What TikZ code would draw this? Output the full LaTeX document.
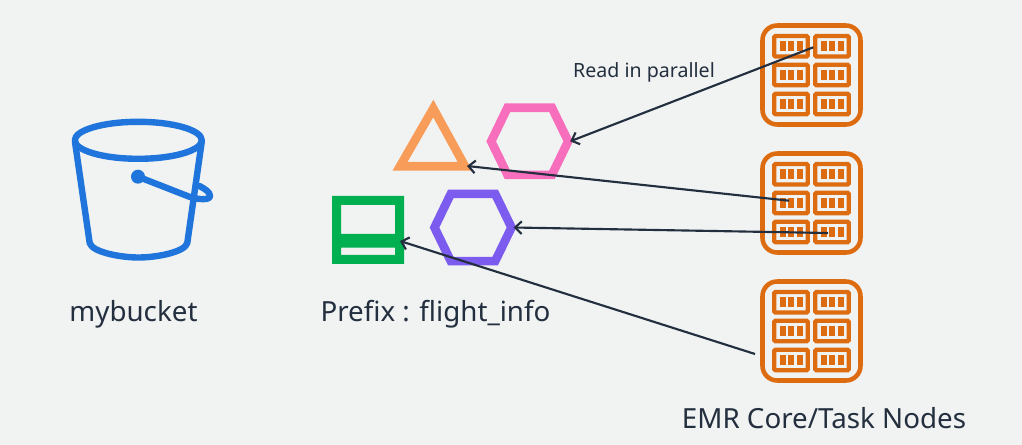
\documentclass[tikz,border=0pt]{standalone}
\usepackage{fontspec}
\setmainfont{Noto Sans}
\usepackage{tikz}
\usetikzlibrary{arrows.meta}
\pgfdeclarelayer{foreground}
\pgfsetlayers{main,foreground}
\definecolor{pagebg}{HTML}{F1F3F3}
\definecolor{bucketblue}{HTML}{1F75DB}
\definecolor{emrorange}{HTML}{DD6B10}
\definecolor{pinkobj}{HTML}{F66EBC}
\definecolor{orangeobj}{HTML}{F89C59}
\definecolor{purpleobj}{HTML}{7B5CEE}
\definecolor{greenobj}{HTML}{00B050}
\definecolor{arrowdark}{HTML}{232F3E}
\tikzset{
  x=0.75pt,y=-0.75pt,
  readarrow/.style={draw=arrowdark,line width=1.6pt,-{Straight Barb[length=5pt,width=9.5pt,line width=1.6pt]}},
  caption/.style={inner sep=0pt,text=arrowdark,font=\fontsize{20.8}{24}\selectfont},
  cell/.style={draw=emrorange,line width=3.2pt,rounded corners=0.8pt},
  cellbar/.style={fill=emrorange},
  hexobj/.style={line width=6.5pt,miter limit=10},
  emrnode/.pic={
    \draw[emrorange,line width=3.4pt,rounded corners=11pt] (-49,-49.5) rectangle (49,49.5);
    \foreach \cx in {-20.5,20.5}{
      \foreach \cy in {-28.7,0,29}{
        \draw[cell] (\cx-16.7,\cy-10.2) rectangle (\cx+16.7,\cy+10.2);
        \fill[cellbar] (\cx-11,\cy-5) rectangle (\cx-5,\cy+5);
        \fill[cellbar] (\cx-3,\cy-5) rectangle (\cx+3,\cy+5);
        \fill[cellbar] (\cx+5.5,\cy-5) rectangle (\cx+11.5,\cy+5);
      }
    }
  },
  hexagonobj/.pic={
    \draw[hexobj,pic actions] (-38.5,0) -- (-22.2,-33.6) -- (22.2,-33.6) -- (38.5,0) -- (22.2,33.6) -- (-22.2,33.6) -- cycle;
    \coordinate (-east) at (40.5,0);
  }
}
\begin{document}
\begin{tikzpicture}
\fill[pagebg] (0,0) rectangle (1022,445);
\useasboundingbox (0,0) rectangle (1022,445);
% bucket
\begin{scope}[line width=4.8pt,line join=round,line cap=round]
\draw[bucketblue] (138.3,140.3) ellipse (63.5 and 18.5);
\draw[bucketblue] (75,142) -- (89.7,243) .. controls (92,252) and (120,257.5) .. (138.5,257.5) .. controls (157,257.5) and (185,252) .. (187.3,243) -- (201.7,142);
\fill[bucketblue] (138,176.7) circle (7);
\draw[bucketblue] (138,176.7) -- (190,197) .. controls (198,199.5) and (210,200.5) .. (210,196) .. controls (210,192) and (205,189) .. (199.5,186);
\end{scope}
\node[caption,anchor=base] (bucketlabel) at (133.5,321.5) {mybucket};
% objects under the prefix
\draw[orangeobj,line width=6.5pt,miter limit=10] (433.3,108.5) -- (465,166.3) -- (400,166.3) -- cycle;
\coordinate (triobj) at (467,166);
\pic[draw=pinkobj] (pinkhex) at (529.7,141.3) {hexagonobj};
\pic[draw=purpleobj] (purplehex) at (473,227.5) {hexagonobj};
\fill[greenobj,even odd rule] (332,196) rectangle (404,264) (341,205) rectangle (395,234) (341,247.7) rectangle (395,255);
\coordinate (greenobj) at (400,241);
\node[caption,anchor=base] (prefixlabel) at (435.5,321.5) {Prefix : flight\_info};
% EMR nodes
\pic (emrA) at (811.5,75) {emrnode};
\pic (emrB) at (811.5,203) {emrnode};
\pic (emrC) at (811.5,331) {emrnode};
\node[caption,anchor=base] (emrlabel) at (824,428.5) {EMR Core/Task Nodes};
\node[inner sep=0pt,anchor=base,text=arrowdark,font=\fontsize{14.7}{17}\selectfont] (readlabel) at (644,77.5) {Read in parallel};
\coordinate (emrAport) at (813.3,47.3);
\coordinate (emrBporta) at (789,200.7);
\coordinate (emrBportb) at (828,233);
\coordinate (emrCport) at (755,354);
\begin{pgfonlayer}{foreground}
\draw[readarrow] (emrAport) -- (pinkhex-east);
\draw[readarrow] (emrBporta) -- (triobj);
\draw[readarrow] (emrBportb) -- (purplehex-east);
\draw[readarrow] (emrCport) -- (greenobj);
\end{pgfonlayer}
\end{tikzpicture}
\end{document}
